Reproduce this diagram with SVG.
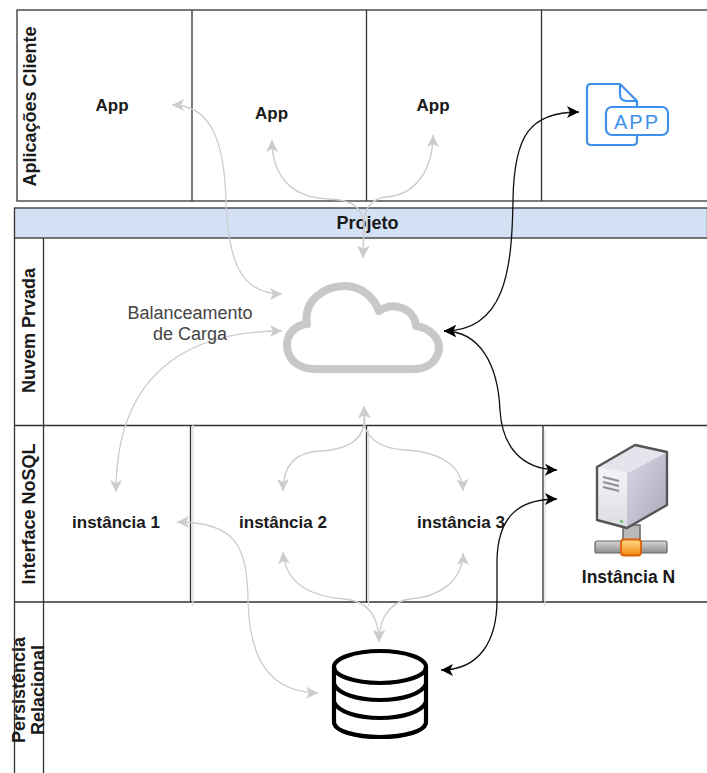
<svg xmlns="http://www.w3.org/2000/svg" width="707" height="773" viewBox="0 0 707 773">
<style>
.lane{fill:none;stroke:#333;stroke-width:1.3}
.ghost{fill:none;stroke:#ddd;stroke-width:1.2}
.t{font-family:"Liberation Sans",Arial,sans-serif;font-size:17px;font-weight:bold;fill:#1a1a1a;text-anchor:middle}
.v{font-size:18px}
.r{font-weight:normal;fill:#444;font-size:18px}
.g{fill:none;stroke:#ccc;stroke-width:1.3;marker-start:url(#ag);marker-end:url(#ag)}
.k{fill:none;stroke:#111;stroke-width:1.3;marker-start:url(#ak);marker-end:url(#ak)}
.db{fill:none;stroke:#000;stroke-width:4.2}
.blue{fill:none;stroke:#3f90ea;stroke-width:2.2;stroke-linejoin:round}
</style>
<defs>
<marker id="ag" markerUnits="userSpaceOnUse" markerWidth="14" markerHeight="14" refX="12" refY="6" orient="auto-start-reverse" overflow="visible"><path d="M0 0L12 6L0 12L3 6Z" fill="#ccc"/></marker>
<marker id="ak" markerUnits="userSpaceOnUse" markerWidth="14" markerHeight="14" refX="12" refY="6" orient="auto-start-reverse" overflow="visible"><path d="M0 0L12 6L0 12L3 6Z" fill="#000"/></marker>
<linearGradient id="sf" x1="0" y1="0" x2="0" y2="1"><stop offset="0" stop-color="#f4f4f8"/><stop offset="1" stop-color="#dcdce4"/></linearGradient>
<linearGradient id="ss" x1="0" y1="0" x2="1" y2="1"><stop offset="0" stop-color="#d8d8e4"/><stop offset="1" stop-color="#a9a9bc"/></linearGradient>
<linearGradient id="sb" x1="0" y1="0" x2="0" y2="1"><stop offset="0" stop-color="#d5d5d5"/><stop offset="1" stop-color="#8e8e8e"/></linearGradient>
<linearGradient id="so" x1="0" y1="0" x2="0" y2="1"><stop offset="0" stop-color="#ffd98a"/><stop offset="1" stop-color="#f08a10"/></linearGradient>
</defs>

<g id="lanes">
<rect class="lane" x="17" y="10" width="691" height="191"/>
<path class="lane" d="M192 10V201M366.500 10V201M541.500 10V201"/>
<rect x="14.500" y="208" width="693" height="30" fill="#d4e1f5" stroke="#333" stroke-width="1.300"/>
<path class="lane" d="M14.500 238V773M43.500 238V773M14.500 425.500H707M14.500 602H707M190.500 425.500V602M366.500 425.500V602M543 425.500V602"/>
<path class="ghost" d="M193 425V606M368.500 430V606M545 430V606"/>
<text class="t v" transform="translate(36 106.500) rotate(-90)">Aplicações Cliente</text>
<text class="t v" x="367.500" y="228.500">Projeto</text>
<text class="t v" transform="translate(35 330.500) rotate(-90)">Nuvem Prvada</text>
<text class="t v" transform="translate(35 514) rotate(-90)">Interface NoSQL</text>
<text class="t v" transform="translate(25 690) rotate(-90)">Persistência</text>
<text class="t v" transform="translate(44 690) rotate(-90)">Relacional</text>
</g>

<g id="connectors">
<path class="g" d="M172 105C205 105 224 130 226 200C228 260 240 294 282 294"/>
<path class="g" d="M272 140C272 175 290 198 330 199C350 200 362 205 364 225L363 258"/>
<path class="g" d="M433 135C433 170 415 196 385 197C372 199 364 208 364 225L363 258"/>
<path class="g" d="M282 331C180 331 116 380 116 492"/>
<path class="g" d="M177 522C235 522 247 545 248 600C249 660 270 692 318 693"/>
<path class="g" d="M364 406L364 425C360 445 340 450 320 451C295 452 283 465 283 491"/>
<path class="g" d="M364 406L365 428C372 445 390 449 405 450C440 452 462 465 463 491"/>
<path class="g" d="M283 552C285 580 305 596 345 599C365 601 379 612 379 642"/>
<path class="g" d="M463 553C463 580 440 597 410 599C395 601 379 612 379 642"/>
<path class="k" d="M579 112C530 112 514 135 513 200C512 270 505 331 444 331"/>
<path class="k" d="M444 331C480 331 498 365 500 410C502 445 520 469 557 470"/>
<path class="k" d="M557 499C520 499 498 515 497 560L497 600C497 640 480 670 441 670"/>
</g>

<g id="app-1"><text class="t" x="112" y="111">App</text></g>
<g id="app-2"><text class="t" x="271.500" y="119">App</text></g>
<g id="app-3"><text class="t" x="433" y="111">App</text></g>
<g id="app-icon">
<path class="blue" d="M637 107V101L620 84H591Q587 84 587 88V141Q587 145 591 145H633Q637 145 637 141V135"/>
<path class="blue" d="M620 84V94Q620 101 627 101H637"/>
<rect class="blue" x="606" y="107" width="62" height="28" rx="6"/>
<text x="637" y="128.500" text-anchor="middle" font-family="Liberation Sans,Arial,sans-serif" font-size="20" letter-spacing="2" fill="#3f90ea">APP</text>
</g>
<g id="cloud"><path d="M315 369C297 369 287 358 287 345C287 333 296 325 307 324C303 300 325 286 345 286C362 286 374 298 379 311C395 300 415 310 416 326C430 328 439 338 439 347C439 360 428 369 415 369Z" fill="none" stroke="#c8c8c8" stroke-width="8" stroke-linejoin="round"/></g>
<g id="balanceamento"><text class="t r" x="190" y="319">Balanceamento</text><text class="t r" x="190" y="340">de Carga</text></g>
<g id="instancia-1"><text class="t" x="116" y="528">instância 1</text></g>
<g id="instancia-2"><text class="t" x="283" y="528">instância 2</text></g>
<g id="instancia-3"><text class="t" x="461" y="528">instância 3</text></g>
<g id="instancia-n">
<rect x="623" y="525" width="17" height="20" fill="#b9b9b9" stroke="#666" stroke-width="1.500"/>
<rect x="595" y="541" width="72" height="12" rx="2" fill="url(#sb)" stroke="#666" stroke-width="1.200"/>
<rect x="621" y="539.500" width="20" height="16" rx="3" fill="url(#so)" stroke="#e0600a" stroke-width="1.800"/>
<path d="M627 473L667 452V505L627 528Z" fill="url(#ss)"/>
<path d="M597 467L627 473V528L597 520Z" fill="url(#sf)"/>
<path d="M597 467L635 445L667 452L627 473Z" fill="#e4e4ec"/>
<path d="M597 467L635 445L667 452V505L627 528L597 520Z" fill="none" stroke="#555" stroke-width="2.400" stroke-linejoin="round"/>
<path d="M603 477L619 481M603 482L619 486M603 487L619 491" stroke="#8d8d9b" stroke-width="2"/>
<path d="M620 521L623 522" stroke="#5fbf5f" stroke-width="2"/>
<text class="t" x="628.500" y="583" style="font-size:17.500px">Instância N</text>
</g>
<g id="database">
<ellipse class="db" cx="380" cy="667" rx="46" ry="16"/>
<path class="db" d="M334 667V722C334 731 355 737 380 737C405 737 426 731 426 722V667"/>
<path class="db" d="M334 684C338 694 358 700 380 700C402 700 422 694 426 684"/>
<path class="db" d="M334 702C338 712 358 718 380 718C402 718 422 712 426 702"/>
</g>
</svg>
